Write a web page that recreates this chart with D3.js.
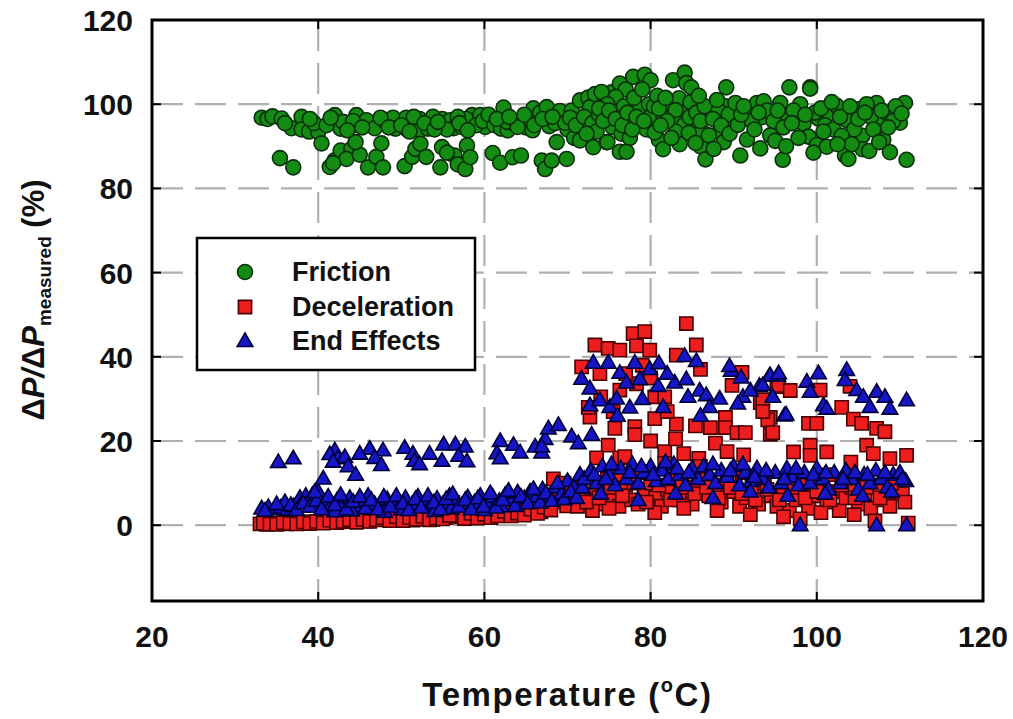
<!DOCTYPE html>
<html>
<head>
<meta charset="utf-8">
<script src="https://cdn.jsdelivr.net/npm/d3@7"></script>
<style>
  html, body { margin: 0; padding: 0; background: #fff; }
  svg { display: block; }
  text { font-family: "Liberation Sans", Arial, Helvetica, sans-serif; font-weight: bold; fill: #111; }
</style>
</head>
<body>
<svg id="chart" width="1013" height="719"></svg>
<script>
// Axis ticks
const xTicks = [20, 40, 60, 80, 100, 120];
const yTicks = [0, 20, 40, 60, 80, 100, 120];

// Series names
const seriesNames = ["Friction", "Deceleration", "End Effects"];

// Friction: [temperature °C, ΔP/ΔP_measured %]
const friction = [
  [33.2,96.8],[33.9,96.5],[34.5,97.1],[35.6,96.6],[35.4,87.2],[37,85],[38,97],[36.8,94.3],[38,94],[38.9,93.5],[40,93.4],[40.4,90.7],[39.5,95.5],
  [42,97.4],[42.7,94.2],[43.8,94.6],[44.6,97.4],[45.8,96.2],[46.8,94.3],[43,95.8],[44.2,96],[41.4,85.1],[42,86.7],[42.7,89],[44,89.4],[43.4,87],[46,85],[47,87.5],[47.6,90.7],[47.8,85],[45,88],[41.8,86],[44.5,91],[48,96],
  [49,96.8],[49.3,94.2],[50.6,96.8],[50.7,94],[52.2,96.5],[52.2,93.8],[53.2,94.2],[54.9,96.5],[55.9,96.2],[56.3,94.3],[57.3,94.6],[58.5,97.4],[59.5,97.4],[60.1,94.6],[51.5,97],[53.8,97],[55.5,94],[57.8,96.5],[59,95],
  [50.4,85.3],[51.3,87.5],[51.7,89.4],[52.3,90.6],[53,87.5],[54.7,85],[54.9,89.8],[56.4,87.8],[56.8,85.7],[57.9,90.2],[57.7,84.6],[58.3,87.4],[55.5,88.5],
  [36,95.5],[39,96.5],[41,95],[41.5,96.8],[43.5,93.8],[45.3,94.5],[47.5,96.8],[48.5,94.5],[50,95],[51,93.5],[52.8,95.5],[54,94],[54.4,95.8],[56.8,97],[57,95.5],[58,93.8],[59.8,96],
  [60.5,97.5],[61.2,95],[62,94.2],[62.8,93.8],[63.5,95.5],[64.3,96],[65,94.5],[65.8,93.8],[66.5,96.8],[67.8,94.8],[68.5,95.5],[69.5,97],[70,94],
  [61,88.4],[62.3,99.2],[61.9,86.1],[63.4,87.4],[64.4,87.8],[62.7,95.8],[64,94.6],[65.5,96.5],[65.9,99],[66.7,98],[66.9,86.6],[67.5,99.3],[67.3,84.6],[68.1,86.6],[68.7,91],[69.1,98.4],[69.9,87],[69.7,95.6],[61.5,96.5],[63,97],[64.8,97.5],[66,95],[67,96.5],[68.2,97],[70.5,98.5],[70.8,92],[71.5,100.9],[71.5,91.4],[70.3,96.8],[71,95],
  [72.5,101.6],[72.7,99.3],[73.3,102.4],[73.1,89.8],[74.5,100.5],[74.7,91],[75.3,102.8],[75.6,94.6],[74.1,102.9],[76.3,104.9],[77.9,106.5],[79.3,107],[80,105.7],[77,103.5],[75.8,101.7],[74.8,100],[76.3,88.7],[77.1,88.7],[74.8,91],[75.4,94.6],[78.7,98.9],[78.7,95.7],[72,97],[73,95.5],[73.8,97.5],[76,97.5],[76.8,99.5],[77.5,96],[78,101.5],[79,103.5],[79.8,100],[80,97],[76.5,93],[77.5,92],[73.5,93.5],[79.5,94],
  [72.3,93],[73.8,99],[74.3,96],[75,98.5],[75.8,96.5],[76.6,95],[77.2,98],[77.8,94],[78.3,97],[79.2,96],[80.4,99.5],[80.8,102],[81.5,97.5],[82.3,100],[83,96],[83.7,99.5],[84,95],[85,97.5],[85.2,94.5],[86.2,93.5],[87,99],[87.8,97.8],[88.3,93.5],[89,99.5],[89.8,96],[81,91.5],[83.5,90.5],[86,90],[88.8,91],
  [80.5,93.3],[81.5,89.3],[82.7,105.7],[84.1,107.5],[84.3,105],[84.9,104],[83.4,101.4],[84.8,100.5],[83,98.6],[84.7,96.9],[83,93.5],[84.6,93.2],[85.4,90.8],[86.6,86.9],[87,92.6],[87.6,89.4],[88.1,98.8],[89.1,104],[89.4,97.6],[81,99],[81.8,101.5],[82,96],[81.2,95],[82.5,92],[85.5,98],[86,96],[86.5,99.5],[87.5,96.5],[88.5,95],[89.5,93],[85.8,102],[88,101],
  [90.2,100.3],[90.5,95.1],[90.8,87.8],[91.6,91.6],[92.8,100.3],[93.6,100.7],[93.4,96.9],[94.4,92.6],[95,91.3],[95.6,100.3],[95.9,86.8],[96.7,104],[98,100],[99.2,104],[98.4,95.4],[99,92.3],[100,90.3],[101.2,89.9],[100.2,96.6],[101.6,97.8],[102.4,99.6],[103.6,96.2],[103.4,87.8],[103.8,87],[104.9,98.8],[105.5,92.5],[105.5,89.3],[106.3,88.9],[107.2,100.3],[107.2,96.4],[108.4,98],[108,91.6],[108.8,88.6],[110,95.6],[110.6,100.3],[110.8,86.8],[99.2,103.7],[91.5,98],[92.2,96],[94,98.5],[96.5,97],[97.2,98.5],[99.8,98],[101,95],[102,94],[104.5,94],[106.5,97],[109.2,96],[106,100],[97.8,92],
  [90.9,97.5],[91.2,99.5],[92.5,94],[93,98],[94.8,96],[95.3,98.5],[96,94.5],[97,95.5],[98.6,97.5],[100.5,99],[100.8,93.5],[101.8,100.5],[102.8,97],[103,92.5],[104,99.5],[104.2,90.5],[105,96.5],[105.8,98],[106.8,94],[107.8,98.5],[108.6,94.5],[109.5,99.5],[110.2,97.8],[107.5,91],[102.5,90.5],[96.3,90],[93.2,89.5],[99.6,88.5]
];

// Deceleration
const deceleration = [
  [33,0.3],[33.8,0.2],[34.6,0.4],[35.4,0.5],[36.2,0.3],[37,0.6],[37.8,0.5],[38.6,0.7],[39.4,0.6],[40.2,0.8],[41,0.7],[41.8,1],[42.6,0.8],[43.4,1.1],[44.2,0.9],[45,1.2],[45.8,1],[46.6,1.6],[47.4,2.2],[48.2,1.4],[49,1.8],[49.8,1.3],[50.6,1.5],[51.4,1.2],[52.2,1.7],[53,1.9],[53.8,1.4],[54.6,2.2],[55.4,1.8],[56.2,5.4],[56.6,3],[57.2,2],[58,2.5],[58.8,1.8],[59.6,2.3],[60.4,2],[61.2,2.8],[62,2.4],[62.8,3.1],[63.6,2.6],[64.4,3.4],[65.2,3],[66,4.2],[66.8,3.2],[67.6,4.8],[68.3,11],[68.4,5.5],[69.2,8.6],[69.6,10],[70,6.5],[70.8,7.4],[71.5,5.5],
  [33.4,0.5],[34.2,0.3],[35,0.2],[35.8,0.6],[36.6,0.4],[37.4,0.3],[38.2,0.8],[39,0.4],[39.8,0.9],[40.6,0.5],[41.4,1.2],[42.2,0.6],[43,0.9],[43.8,1.3],[44.6,0.7],[45.4,1.4],[46.2,0.9],[47,1.3],[47.8,1.8],[48.6,1.1],[49.4,2],[50.2,1.1],[51,1.8],[51.8,1.4],[52.6,2.1],[53.4,1.3],[54.2,1.7],[55,1.5],[55.8,2.3],[57.6,1.6],[58.4,2.8],[59.2,1.7],[60,2.6],[60.8,1.8],[61.6,2.2],[62.4,3.3],[63.2,2.2],[64,2.9],[64.8,2.4],[65.6,3.8],[66.4,2.8],[67.2,4.3],[68,3.6],[68.8,6.8],[69.9,4.6],[70.5,9],[71.2,4.5],[71.8,8],
  [73.3,42.8],[74.9,42],[76.3,41.6],[77.9,45.5],[79.3,46],[78.3,42.6],[79.9,41.6],[85.5,42.8],[84.3,47.9],[71.7,37.6],[73.9,36],[76.3,32.1],[78.3,33.6],[80.5,30.5],[81.7,30.5],[83.1,40.4],[83.1,24],[85.4,23.6],[87.2,23.2],[89,25.6],[89,23.2],[90.4,22],[91.4,22],[89.8,33.2],[91,36.3],[93.2,29.1],[94.4,25.6],[94.4,21.6],[95.2,32.9],[72.7,25.7],[75.7,23],[78.1,23.4],[78.1,21.5],[80.5,25.3],[74.9,19],[81.7,17.5],[81.7,14.7],[76.3,16],[76.9,16.3],[87.8,19.5],[89.2,17.5],[91.2,16.7],[85.8,15.9],[72.5,28],[74,30.5],[77,36],[79,38],[80,35],[82,27],[86,37],[84,17],[80,20],[83,20.5],[73.5,16],[75.5,27],
  [95.4,33.2],[93.5,29.8],[94.1,25],[94.7,22],[93.5,27],[99,24.2],[100,24.2],[100.4,32.1],[103,28],[104.4,25.2],[105.4,24.2],[107.2,23],[108.2,22.2],[97.2,17.4],[99.2,19],[99.2,16.6],[101.2,17.4],[106,19],[106.8,17],[108.8,15.8],[110.8,16.6],[104.1,15],[110,7.6],[108.2,10],[96.8,32],[104,33],
  [72,7],[72.8,9],[73.5,5],[74.2,8],[74.8,11],[75.5,6],[76.2,4.5],[77,9.5],[77.7,6],[78.5,5],[79.2,8],[80,10],[80.6,6.5],[81.3,4.5],[82,8.5],[82.8,11],[83.5,6],[84.2,9],[85,5],[85.7,10.5],[86.4,12],[87,7],[87.8,9.5],[88.5,5.5],[89.2,11],[90,8],[90.7,4.5],[91.5,6.5],[92.2,9],[93,5],[93.7,10],[94.5,7],[95.2,4.5],[96,8],[96.7,3.5],[97.5,6],[98.2,9.5],[99,4],[99.7,7],[100.4,10],[101.2,5.5],[102,8],[102.7,3.5],[103.5,6.5],[104.2,9],[105,5],[105.8,7.5],[106.5,4],[107.3,9.5],[108,6],[108.8,4.5],[109.5,8],[110.3,7.5],[111,0.5],[98,1.5],[107,1],[73,3.5],[75,4],[80.5,3],[84,4],[88,3.5],[92,2.5],[96,2],[100.5,3],[104.5,2.5],[101.5,12],[96.5,11],[91,12.5],[86,14],[79,12.5],[76,12],
  [72.3,5.5],[73.8,6.5],[75.2,9],[76.6,7],[78,10],[79.5,5.5],[81,9.5],[82.4,6],[83.8,10.5],[85.3,7.5],[86.7,9],[88.2,6.5],[89.6,9],[91,7.5],[92.6,6],[94,8.5],[95.5,6],[97,9],[98.6,6.5],[100,8],[101.6,6],[103,9.5],[104.6,6.5],[106,9],[107.6,6.5],[109,10],[110.6,5.5]
];

// End effects
const endEffects = [
  [33.2,4],[34,4.3],[34.8,3.8],[35.5,4.2],[36.3,3.7],[37,4.5],[37.8,6.5],[38.5,7],[39.3,7.2],[40,8],[40.8,5.5],[41.5,4.5],[42.3,6],[43,5],[43.8,6.5],[44.5,4.2],[45.3,5.8],[46,7],[46.8,5],[47.5,4.5],[48.3,6.2],[49,5.5],[49.8,4.8],[50.5,6.5],[51.3,5],[52,6.8],[52.8,5.2],[53.5,4.6],[54.3,6.3],[55,5],[55.8,7],[56.5,5.5],[57.3,4.8],[58,6.6],[58.8,5.4],[59.5,7],[60.3,5.2],[61,6.8],[61.8,5.8],[62.5,7.2],[63.3,6],[64,7.8],[64.8,6.4],[65.5,8],[66.3,6.8],[67,8.5],[67.8,7],[68.5,9],[69.3,7.5],[70,10.5],[70.8,9],[71.5,12],[36,5.5],[44,3.5],[50,3.8],[56,4],[62,4.5],[42,3.3],[48,3.2],[54,3.4],[60,3.6],
  [33.6,3.5],[35,5],[36.7,4.8],[37.4,3.6],[38.2,5.2],[39,4.4],[39.8,5.8],[40.4,3.8],[41.2,6.8],[42,4.8],[42.7,7.2],[43.4,3.8],[44.2,5.6],[45,6.8],[45.7,4],[46.4,6],[47.2,3.8],[47.9,6.8],[48.7,4.4],[49.4,7],[50.2,5.2],[50.9,3.6],[51.7,6.2],[52.4,4.2],[53.2,7],[53.9,5.4],[54.7,3.8],[55.4,6.2],[56.2,7.4],[56.9,4.4],[57.7,6],[58.4,3.8],[59.2,6.4],[59.9,4.4],[60.7,7.6],[61.4,4.2],[62.2,6],[62.9,8.2],[63.7,4.6],[64.4,6.8],[65.2,5.2],[65.9,8.6],[66.7,5.4],[67.4,7.6],[68.1,5.8],[68.8,10],[69.6,6.2],[70.4,8],[71.1,6.5],[71.8,9],
  [35.2,15],[37,15.9],[42,17.8],[41.4,16.9],[42.4,15.9],[43.2,16.2],[43.6,14],[41.8,15.1],[40.6,11.1],[39.6,7.9],[46.2,18.2],[47.8,17.8],[46.8,16],[47.6,14.3],[50.4,18.4],[51.4,17],[53.4,17],[51.6,15.3],[52.2,14.5],[54.9,15.3],[55.1,19.2],[56.5,19.2],[57.7,18.7],[56.9,16.5],[57.9,15.2],[61.9,20],[63.5,19.1],[64.3,17.3],[61.5,17.1],[61.9,15.9],[66.1,18.7],[66.9,17.3],[67.3,20.5],[67.7,23],[68.9,23.8],[70.5,21.1],[71.3,19.5],[72.9,21.5],[66.9,18.7],[44.5,12],[45,17],
  [71.7,34.8],[72.7,32.5],[73.1,38.6],[74.9,38.6],[72.7,28.5],[73.9,29.7],[75.1,28.1],[75.9,30.1],[76.3,36.2],[77.1,33.9],[78.1,38.6],[78.7,34.7],[79.9,37.1],[80.9,33.1],[81.5,28.1],[82.9,33.9],[84.1,40.2],[85.5,39],[84.3,34.7],[84.5,30.5],[85.9,32],[86.7,30.9],[87.1,28.1],[88.3,30.1],[89.7,36.7],[90.9,35.1],[91.1,30.5],[90.5,28.9],[93.1,33.1],[94.3,35.5],[95.3,35.5],[94.7,30.5],[96.1,26.1],[89.5,37.8],[94.4,35.6],[95.4,36.1],[93.5,33.3],[96.3,26.3],[98.8,34.1],[100.2,36.1],[99.2,31.7],[100.8,28.5],[101.2,27.7],[103.6,36.9],[103.4,34.5],[104.8,32.1],[105.6,30.5],[107.2,31.7],[108.2,30.5],[108.8,27.7],[106.4,28.1],[110.8,29.7],[76,26],[79,30],[82,36],[77.5,28],[86,26],[92,32],[81,38.5],
  [72,11],[72.8,13],[73.5,10],[74.2,14],[75,12],[75.7,9.5],[76.4,13.5],[77.1,11],[77.8,14.5],[78.5,10],[79.2,12.5],[80,14],[80.7,10.5],[81.4,13],[82.1,11],[82.8,14.5],[83.5,12],[84.2,9.5],[85,13.5],[85.7,11],[86.4,14],[87.1,12],[87.8,10],[88.5,13],[89.2,11.5],[90,14],[90.7,9.5],[91.4,12.5],[92.1,10.5],[92.8,13.5],[93.5,11],[94.2,9],[95,12.5],[95.7,10],[96.4,13.5],[97.1,11.5],[97.8,9.5],[98.5,12.5],[99.2,10],[100,13.5],[100.7,11],[101.4,8.5],[102.1,12.5],[102.8,10],[103.5,13],[104.2,11],[105,8.5],[105.7,12],[106.4,10],[107.1,13],[107.8,11],[108.5,9],[109.2,12],[110,12.5],[110.7,10.5],
  [73.2,12],[74.6,11],[75.3,14.5],[77.5,12.5],[78.9,14],[80.3,12],[81.8,15],[83.2,13.5],[84.6,12.5],[87.5,14.5],[89.6,13],[91.1,14.5],[92.5,11.5],[93.9,13],[96.1,11],[97.5,13.5],[99.6,12],[101.1,12.5],[103.2,11],[104.6,12.5],[106.1,12],[108.2,12.5],[110.3,11],
  [74,7.5],[78.5,6],[83,7.5],[87.5,6.5],[92,8],[96.5,7],[101,7.5],[105.5,7],[109,8],[98,0],[107.2,0],[110.8,0]
];

const svg = d3.select("#chart");
const plot = { left: 152, right: 983, top: 20, bottom: 601 };

const x = d3.scaleLinear().domain([20, 120]).range([plot.left, plot.right]);
const y = d3.scaleLinear().domain([-18, 120]).range([plot.bottom, plot.top]);

// Dashed grid
const grid = svg.append("g").attr("stroke", "#b0b0b0").attr("stroke-width", 2.2).attr("stroke-dasharray", "31,12");
grid.selectAll("line.h").data(yTicks.filter(v => v < 120)).join("line")
  .attr("x1", plot.left).attr("x2", plot.right)
  .attr("y1", d => y(d)).attr("y2", d => y(d));
grid.selectAll("line.v").data(xTicks.filter(v => v > 20 && v < 120)).join("line")
  .attr("y1", plot.top).attr("y2", plot.bottom)
  .attr("x1", d => x(d)).attr("x2", d => x(d));

// Marker shapes
const circlePath = (cx, cy) => { const r = 7.5; return `M${cx - r},${cy}a${r},${r} 0 1,0 ${2 * r},0a${r},${r} 0 1,0 ${-2 * r},0Z`; };
const squarePath = (cx, cy) => { const h = 6.6; return `M${cx - h},${cy - h}h${2 * h}v${2 * h}h${-2 * h}Z`; };
const trianglePath = (cx, cy) => { const w = 7.8, t = 8, b = 5.5; return `M${cx},${cy - t}L${cx + w},${cy + b}L${cx - w},${cy + b}Z`; };

const styles = [
  { data: friction, shape: circlePath, fill: "#148c14", stroke: "#0b2f0b" },
  { data: deceleration, shape: squarePath, fill: "#ee1e1e", stroke: "#4a0000" },
  { data: endEffects, shape: trianglePath, fill: "#1616c6", stroke: "#000038" }
];

styles.forEach(s => {
  svg.append("g").selectAll("path").data(s.data).join("path")
    .attr("d", d => s.shape(x(d[0]), y(d[1])))
    .attr("fill", s.fill).attr("stroke", s.stroke).attr("stroke-width", 1.6);
});

// Frame with inward ticks
const axes = svg.append("g").attr("stroke", "#000");
axes.selectAll("line.yl").data(yTicks).join("line")
  .attr("x1", plot.left).attr("x2", plot.left + 9).attr("y1", d => y(d)).attr("y2", d => y(d)).attr("stroke-width", 2);
axes.selectAll("line.yr").data(yTicks).join("line")
  .attr("x1", plot.right - 9).attr("x2", plot.right).attr("y1", d => y(d)).attr("y2", d => y(d)).attr("stroke-width", 2);
axes.selectAll("line.xb").data(xTicks).join("line")
  .attr("x1", d => x(d)).attr("x2", d => x(d)).attr("y1", plot.bottom - 9).attr("y2", plot.bottom).attr("stroke-width", 2);
axes.selectAll("line.xt").data(xTicks).join("line")
  .attr("x1", d => x(d)).attr("x2", d => x(d)).attr("y1", plot.top).attr("y2", plot.top + 9).attr("stroke-width", 2);
svg.append("rect")
  .attr("x", plot.left).attr("y", plot.top)
  .attr("width", plot.right - plot.left).attr("height", plot.bottom - plot.top)
  .attr("fill", "none").attr("stroke", "#000").attr("stroke-width", 3);

// Tick labels
svg.append("g").selectAll("text").data(yTicks).join("text")
  .attr("x", 133).attr("y", d => y(d) + 11)
  .attr("text-anchor", "end").attr("font-size", 30)
  .text(d => d);
svg.append("g").selectAll("text").data(xTicks).join("text")
  .attr("x", d => x(d)).attr("y", 647)
  .attr("text-anchor", "middle").attr("font-size", 30)
  .text(d => d);

// Axis titles
const xt = svg.append("text").attr("x", (plot.left + plot.right) / 2).attr("y", 706)
  .attr("text-anchor", "middle").attr("font-size", 33).attr("letter-spacing", 1.6);
xt.append("tspan").text("Temperature (");
xt.append("tspan").attr("font-size", 20).attr("dy", -14).text("o");
xt.append("tspan").attr("dy", 14).text("C)");

const yt = svg.append("text").attr("transform", "translate(44,300) rotate(-90)")
  .attr("text-anchor", "middle").attr("font-size", 31);
yt.append("tspan").text("Δ");
yt.append("tspan").attr("font-style", "italic").text("P/");
yt.append("tspan").text("Δ");
yt.append("tspan").attr("font-style", "italic").text("P");
yt.append("tspan").attr("font-size", 19).attr("dy", 7).text("measured");
yt.append("tspan").attr("dy", -7).text(" (%)");

// Legend
const lg = svg.append("g");
lg.append("rect").attr("x", 197).attr("y", 238).attr("width", 278).attr("height", 132)
  .attr("fill", "#fff").attr("stroke", "#000").attr("stroke-width", 2.5);
const legendY = [272, 307, 341];
styles.forEach((s, i) => {
  lg.append("path").attr("d", s.shape(245, legendY[i]))
    .attr("fill", s.fill).attr("stroke", s.stroke).attr("stroke-width", 1.6);
  lg.append("text").attr("x", 292).attr("y", legendY[i] + 9).attr("font-size", 27).text(seriesNames[i]);
});
</script>
</body>
</html>
